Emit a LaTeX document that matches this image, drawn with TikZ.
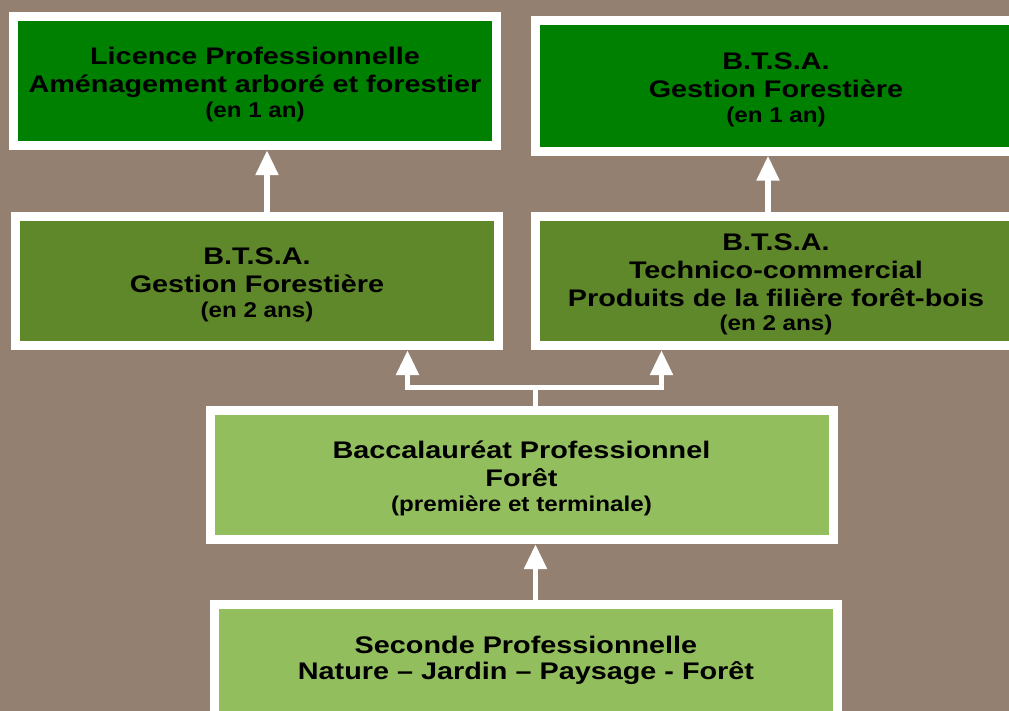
\documentclass[tikz,border=0pt]{standalone}
\usepackage{fontspec}
\setmainfont{Liberation Sans}
\newfontfamily\grandfam[FakeStretch=1.2]{Liberation Sans}
\newfontfamily\petitfam[FakeStretch=1.13]{Liberation Sans}
\usepackage{tikz}
\usetikzlibrary{arrows.meta, positioning}
\definecolor{terre}{RGB}{148,128,113}
\definecolor{vertfonce}{RGB}{0,128,0}
\definecolor{vertmoyen}{RGB}{94,136,42}
\definecolor{vertclair}{RGB}{147,190,94}
\newcommand{\duree}[1]{{\petitfam\bfseries\fontsize{10.7}{12}\selectfont #1}}
\newcommand{\haut}{\rule{0pt}{11.75pt}}
\tikzset{>=Triangle,
    cadre/.style={rectangle, draw=white, line width=4.5pt, inner sep=0pt, align=center,
        font=\grandfam\bfseries\fontsize{12}{14}\selectfont, text=black},
    fleche/.style={draw=white, line width=2.75pt, -{Triangle[width=11pt,length=12.5pt]}}
}

\begin{document}
\begin{tikzpicture}[x=0.5pt, y=-0.5pt]
    \fill[terre] (0,0) rectangle (1009,711);
    \useasboundingbox (0,0) rectangle (1009,711);

    \node[cadre, fill=vertfonce, minimum width=241.75pt, minimum height=64.75pt]	(LP)	at	(255,81)	{\haut Licence Professionnelle\\Aménagement arboré et forestier\\[-1.5pt]\duree{(en 1 an)}};
    \node[cadre, fill=vertfonce, minimum width=240.5pt, minimum height=65.25pt]	(GF1)	at	(776,86)	{\haut B.T.S.A.\\Gestion Forestière\\[-1.5pt]\duree{(en 1 an)}};
    \node[cadre, fill=vertmoyen, minimum width=241.25pt, minimum height=64.75pt]	(GF2)	at	(257,281)	{\haut B.T.S.A.\\Gestion Forestière\\[-1.5pt]\duree{(en 2 ans)}};
    \node[cadre, fill=vertmoyen, minimum width=240.5pt, minimum height=64.75pt]	(TC)	at	(776,281)	{\haut B.T.S.A.\\Technico-commercial\\Produits de la filière forêt-bois\\[-2pt]\duree{(en 2 ans)}};
    \node[cadre, fill=vertclair, minimum width=311.5pt, minimum height=64.75pt]	(BP)	at	(521.5,475)	{\haut Baccalauréat Professionnel\\Forêt\\[-1.5pt]\duree{(première et terminale)}};
    \node[cadre, fill=vertclair, minimum width=311.5pt, minimum height=55.5pt]	(SP)	at	(526,660)	{Seconde Professionnelle\\[-1pt]Nature – Jardin – Paysage - Forêt};

    \coordinate	(J)	at	(535.5,387.5);
    \coordinate	(JL)	at	(407.5,387.5);
    \coordinate	(JR)	at	(661.5,387.5);

    \draw[fleche] ([xshift=5pt]GF2.north) -- ([xshift=5pt]GF2.north |- LP.south);
    \draw[fleche] ([xshift=-4pt]TC.north) -- ([xshift=-4pt]TC.north |- GF1.south);

    \draw[fleche] (J |- BP.north) -- (J) -- (JL) -- (JL |- GF2.south);
    \draw[fleche] (J) -- (JR) -- (JR |- TC.south);

    \draw[fleche] (J |- SP.north) -- (J |- BP.south);
\end{tikzpicture}
\end{document}
